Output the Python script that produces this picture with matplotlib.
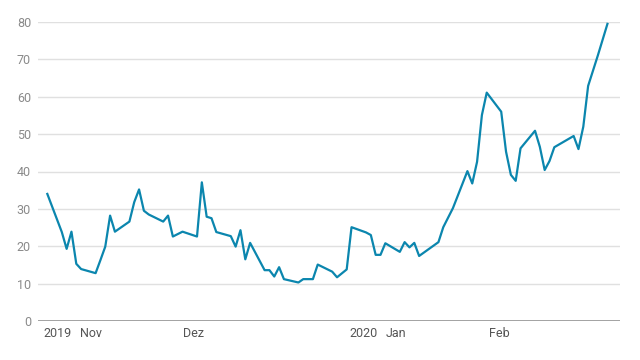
import numpy as np
import matplotlib.pyplot as plt

# day offsets (calendar days from first point) and values
days = [0, 3, 4, 5, 6, 7, 10, 11, 12, 13, 14, 17, 18, 19, 20, 21, 24, 25, 26, 28,
        31, 32, 33, 34, 35, 38, 39, 40, 41, 42, 45, 46, 47, 48, 49, 52, 53, 55, 56,
        59, 60, 62, 63, 66, 67, 68, 69, 70, 73, 74, 75, 76, 77, 81, 82, 84, 87, 88,
        89, 90, 91, 94, 95, 96, 97, 98, 101, 102, 103, 104, 105, 109, 110, 111, 112,
        114, 116]
values = [34.0, 23.8, 19.3, 23.9, 15.3, 13.9, 12.8, 16.3, 19.9, 28.2, 23.9, 26.6,
          31.8, 35.2, 29.5, 28.5, 26.6, 28.2, 22.6, 23.9, 22.6, 37.1, 27.9, 27.5,
          23.8, 22.7, 19.9, 24.3, 16.5, 20.9, 13.6, 13.6, 11.9, 14.4, 11.2, 10.3,
          11.2, 11.2, 15.1, 13.2, 11.7, 13.8, 25.1, 23.7, 23.0, 17.7, 17.7, 20.8,
          18.5, 21.1, 19.7, 20.9, 17.4, 21.1, 25.1, 30.2, 40.1, 36.8, 42.6, 55.1,
          61.1, 56.0, 45.3, 39.1, 37.5, 46.2, 50.9, 46.6, 40.4, 42.8, 46.5, 49.5,
          46.0, 52.0, 62.9, 71.0, 79.5]

# x tick labels and where they sit (in days)
tick_days = [2.1, 9.05, 30.3, 65.4, 72.2, 93.6]
tick_labels = ['2019', 'Nov', 'Dez', '2020', 'Jan', 'Feb']
y_ticks = [0, 10, 20, 30, 40, 50, 60, 70, 80]

plt.rcParams['font.family'] = ['Roboto', 'DejaVu Sans']

fig = plt.figure(figsize=(6.4, 3.6), dpi=100)
ax = fig.add_axes([38 / 640, 39 / 360, 582 / 640, 299 / 360])

ax.plot(days, values, color='#0b86ae', linewidth=1.6, clip_on=False, zorder=3)

ax.set_xlim(-1.93, 118.6)
ax.set_ylim(0, 80)
ax.set_yticks(y_ticks)
ax.set_xticks(tick_days)
ax.set_xticklabels(tick_labels)

ax.grid(axis='y', color='#e0e0e0', linewidth=1)
ax.axhline(0, color='#9a9a9a', linewidth=2, zorder=2)
for s in ax.spines.values():
    s.set_visible(False)
ax.tick_params(axis='both', length=0)
ax.tick_params(axis='y', colors='#8a8a8a', labelsize=9, pad=5)
ax.tick_params(axis='x', colors='#555555', labelsize=9, pad=4)

fig.savefig('out.png', dpi=100)
